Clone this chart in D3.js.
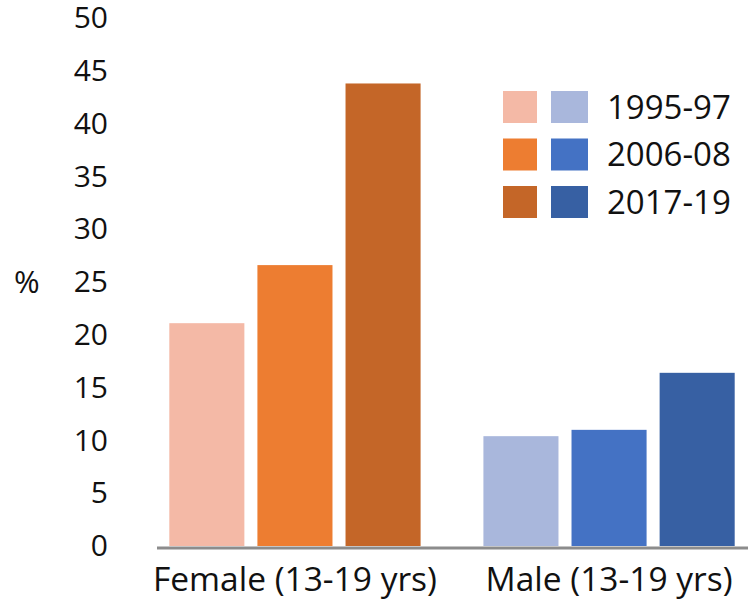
<!DOCTYPE html>
<html>
<head>
<meta charset="utf-8">
<script src="https://cdn.jsdelivr.net/npm/d3@7"></script>
<style>
  html, body { margin: 0; padding: 0; background: #fff; }
  svg { display: block; font-family: "Open Sans", "Noto Sans", sans-serif; }
</style>
</head>
<body>
<svg id="chart" width="748" height="600"></svg>
<script>
const categories = ["Female (13-19 yrs)", "Male (13-19 yrs)"];
const periods = ["1995-97", "2006-08", "2017-19"];
const femaleValues = [21.1, 26.6, 43.8];
const maleValues = [10.4, 11.0, 16.4];
const femaleColors = ["#F4B9A6", "#ED7D31", "#C46628"];
const maleColors = ["#A9B7DC", "#4472C4", "#3760A3"];
const yTicks = [0, 5, 10, 15, 20, 25, 30, 35, 40, 45, 50];

const groups = [
  { name: categories[0], values: femaleValues, colors: femaleColors },
  { name: categories[1], values: maleValues, colors: maleColors }
];

const svg = d3.select("#chart");

const y = d3.scaleLinear().domain([0, 50]).range([546, 18]);
const x0 = d3.scaleBand().domain(categories).range([158, 746]).paddingInner(0.2).paddingOuter(0.036);
const x1 = d3.scaleBand().domain(periods).range([0, x0.bandwidth()]).paddingInner(0.148).paddingOuter(0);

// Bars
const g = svg.append("g");
groups.forEach(grp => {
  g.append("g")
    .attr("transform", `translate(${x0(grp.name)},0)`)
    .selectAll("rect")
    .data(periods.map((p, i) => ({ p, v: grp.values[i], c: grp.colors[i] })))
    .join("rect")
    .attr("x", d => x1(d.p))
    .attr("width", x1.bandwidth())
    .attr("y", d => y(d.v))
    .attr("height", d => y(0) - y(d.v))
    .attr("fill", d => d.c);
});

// Baseline
svg.append("line")
  .attr("x1", 157).attr("x2", 748)
  .attr("y1", y(0) + 2).attr("y2", y(0) + 2)
  .attr("stroke", "#8c8c8c").attr("stroke-width", 3);

// Y axis
const yAxis = svg.append("g")
  .attr("transform", "translate(108,0)")
  .call(d3.axisLeft(y).tickValues(yTicks).tickSize(0).tickPadding(0));
yAxis.select(".domain").remove();
yAxis.selectAll("text")
  .attr("font-family", "'Open Sans', 'Noto Sans', sans-serif")
  .attr("font-size", 30)
  .attr("fill", "#111");

// % label
svg.append("text")
  .attr("x", 14).attr("y", y(25))
  .attr("dy", "0.34em")
  .attr("font-size", 31)
  .attr("fill", "#111")
  .text("%");

// X axis labels
const xAxis = svg.append("g")
  .attr("transform", `translate(0,${y(0) + 2})`)
  .call(d3.axisBottom(x0).tickSize(0).tickPadding(19));
xAxis.select(".domain").remove();
xAxis.selectAll("text")
  .attr("font-family", "'Open Sans', 'Noto Sans', sans-serif")
  .attr("font-size", 33.5)
  .attr("fill", "#111");

// Legend
const legend = svg.append("g");
periods.forEach((p, i) => {
  const cy = 107 + i * 47.5;
  legend.append("rect").attr("x", 503).attr("y", cy - 16).attr("width", 34).attr("height", 32).attr("fill", femaleColors[i]);
  legend.append("rect").attr("x", 551).attr("y", cy - 16).attr("width", 37).attr("height", 32).attr("fill", maleColors[i]);
  legend.append("text")
    .attr("x", 607).attr("y", cy)
    .attr("dy", "0.36em")
    .attr("font-size", 33)
    .attr("fill", "#111")
    .text(p);
});
</script>
</body>
</html>
